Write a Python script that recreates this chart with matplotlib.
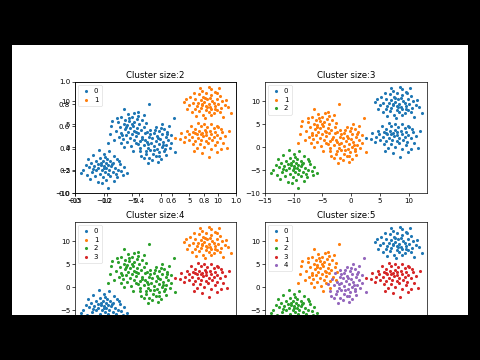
import matplotlib
matplotlib.use("Agg")
import matplotlib.pyplot as plt
from matplotlib.patches import Rectangle

# ---- data: five point groups (x, y) ----
group_a_x = [8.5,7.2,9.6,6.8,8.0,10.4,5.2,7.5,8.8,9.9,6.1,7.0,8.2,9.0,10.8,4.1,5.6,6.6,7.6,8.4,
             9.3,10.1,11.2,5.0,6.3,7.2,8.0,8.7,9.6,10.6,4.7,6.0,7.0,7.9,8.9,9.9,11.8,5.5,6.8,8.4,
             9.3,10.4,7.4,8.9,6.2,10.9,7.8,9.8,6.9,8.9,7.7,8.6,5.9,11.5,9.5,7.3,8.1,12.3,4.5,10.2]
group_a_y = [13.1,12.3,12.0,11.6,11.8,11.2,11.0,11.0,11.3,10.6,10.5,10.2,10.4,10.1,10.0,9.9,9.7,9.6,9.8,9.5,
             9.7,9.4,9.1,9.2,9.0,9.2,9.0,8.8,9.0,8.6,8.4,8.3,8.6,8.2,8.4,8.0,8.7,7.6,7.8,7.6,
             7.4,7.7,7.1,6.9,6.8,6.6,6.4,11.8,12.9,12.6,10.7,10.8,11.9,10.3,8.4,9.5,8.7,7.5,10.6,12.8]

group_b_x = [6.5,7.6,8.8,5.3,9.9,7.0,8.2,6.1,9.3,10.6,4.6,5.7,6.8,7.7,8.6,9.6,10.8,3.6,4.9,6.3,
             7.2,8.0,8.9,9.9,11.2,4.3,5.5,6.6,7.5,8.4,9.3,10.4,3.4,5.0,6.1,7.1,8.0,9.0,9.8,11.0,
             5.7,6.9,8.3,9.5,7.6,6.4,8.8,10.5,7.3,8.5,5.9,9.9,7.9,6.0,10.1,4.1,11.6,12.0,2.6,7.0]
group_b_y = [5.3,5.1,5.0,4.6,4.7,4.5,4.3,4.0,4.1,3.9,3.6,3.4,3.6,3.8,3.5,3.3,3.2,3.0,2.9,2.8,
             3.0,2.7,2.9,2.6,2.5,2.2,2.3,2.1,2.4,2.0,2.2,1.9,1.7,1.5,1.4,1.6,1.3,1.5,1.2,1.0,
             0.7,0.6,0.8,0.4,0.1,-0.2,-0.3,-0.3,-1.2,-2.2,-0.9,-1.1,3.3,3.1,4.4,1.1,-0.1,3.6,2.0,2.9]

group_c_x = [-6.5,-4.6,-5.8,-3.9,-6.9,-5.1,-4.2,-6.2,-3.3,-5.5,-7.5,-4.7,-2.6,-6.5,-3.8,-5.9,-4.9,-8.7,-7.1,-2.9,
             -4.1,-5.4,-6.3,-3.5,-7.8,-4.6,-5.7,-2.4,-6.9,-3.9,-5.0,-8.9,-6.1,-4.3,-7.3,-3.2,-5.4,-6.6,-4.7,-8.1,
             -3.7,-5.9,-7.0,-4.4,-5.2,-6.4,-3.6,-4.9,-2.1,-9.2,-5.6,-4.4,-6.0,-3.0,-7.6,-5.1,-4.0,-6.8,-2.7,-8.5]
group_c_y = [8.4,7.5,7.2,6.8,6.6,6.6,6.2,6.0,5.9,5.7,5.5,5.4,5.3,5.1,5.0,4.8,4.6,4.6,4.4,4.4,
             4.2,4.1,3.9,3.8,3.6,3.5,3.3,3.2,3.1,3.0,2.8,2.8,2.6,2.4,2.2,2.2,2.0,1.8,1.6,1.5,
             1.4,1.2,0.9,0.8,0.2,0.0,-0.1,-0.9,9.3,1.0,6.3,3.3,4.4,6.9,6.4,5.1,7.6,2.6,1.6,5.8]

group_d_x = [0.3,1.4,-0.8,0.6,-1.9,-0.2,1.2,-1.2,-2.8,0.2,1.8,-0.7,-2.0,0.9,-1.5,-0.1,-3.3,1.3,-0.9,-2.4,
             0.4,-1.7,-0.3,1.0,-3.0,-1.2,0.2,-2.2,1.6,-0.6,-1.8,0.6,-3.6,-0.2,-1.3,-2.6,0.9,-0.8,-2.0,0.1,
             -1.5,-3.0,-0.4,-2.3,2.3,1.9,-4.0,-0.5,0.7,-1.0,-2.5,-1.1,2.6,-3.5,0.0,-1.8,1.1,-0.3,-2.2,0.5]
group_d_y = [5.0,4.6,4.4,3.9,3.7,3.5,3.3,3.1,3.0,2.8,2.6,2.5,2.3,2.2,1.9,1.8,1.7,1.5,1.3,1.2,
             1.1,0.8,0.6,0.5,0.4,0.2,0.0,-0.1,-0.2,-0.4,-0.7,-0.8,-0.9,-1.1,-1.4,-1.6,-1.7,-2.0,-2.3,-2.5,
             -2.9,-2.4,-3.3,-3.4,6.4,1.0,0.7,1.9,-0.3,3.8,-0.9,-0.6,-1.0,-2.0,4.2,2.9,2.9,-1.9,0.6,0.4]

group_e_x = [-10.8,-9.0,-11.9,-9.9,-8.2,-10.6,-12.8,-9.4,-7.6,-11.3,-10.1,-8.8,-12.2,-9.6,-11.0,-8.3,-13.1,-10.5,-9.2,-7.2,
             -11.7,-10.0,-8.7,-12.5,-9.5,-10.9,-8.0,-6.4,-11.4,-10.2,-9.0,-7.5,-13.9,-12.0,-9.8,-8.4,-6.9,-10.7,-9.3,-5.9,
             -11.5,-8.8,-10.1,-7.7,-12.4,-9.6,-8.2,-11.0,-9.2,-6.6,-10.4,-9.8,-8.5,-11.8,-7.9,-13.6,-10.3,-12.9,-7.3,-9.9]
group_e_y = [-0.6,-0.9,-1.8,-1.6,-1.9,-2.4,-2.6,-2.5,-2.6,-3.0,-3.1,-3.0,-3.4,-3.5,-3.6,-3.4,-3.8,-3.9,-3.8,-3.7,
             -4.1,-4.2,-4.1,-4.4,-4.5,-4.6,-4.5,-4.4,-5.0,-5.0,-5.0,-4.9,-5.6,-5.5,-5.4,-5.5,-5.2,-5.8,-5.9,-5.6,
             -6.3,-6.3,-6.6,-6.5,-7.0,-7.2,-7.4,-7.6,-8.9,-6.0,-3.4,-2.1,-3.7,-4.8,-5.9,-4.9,-7.9,-6.1,-3.1,-4.6]

groups = {
    "a": (group_a_x, group_a_y),
    "b": (group_b_x, group_b_y),
    "c": (group_c_x, group_c_y),
    "d": (group_d_x, group_d_y),
    "e": (group_e_x, group_e_y),
}

# which groups make up each cluster label, per cluster size
cluster_sizes = [2, 3, 4, 5]
cluster_members = {
    2: [["c", "d", "e"], ["a", "b"]],
    3: [["a", "b"], ["c", "d"], ["e"]],
    4: [["e"], ["a"], ["c", "d"], ["b"]],
    5: [["a"], ["c"], ["e"], ["b"], ["d"]],
}
colors = ["#1f77b4", "#ff7f0e", "#2ca02c", "#d62728", "#9467bd"]

# ---- figure ----
W, H = 480, 360
fig = plt.figure(figsize=(W / 100, H / 100), dpi=100, facecolor="black")
fig.add_artist(Rectangle((12 / W, 1 - 315 / H), 456 / W, 270 / H,
                         transform=fig.transFigure, facecolor="white",
                         edgecolor="none", zorder=-5))

def rect(left, top, w, h):
    return [left / W, 1 - (top + h) / H, w / W, h / H]

rects = [rect(75, 82, 161, 111), rect(265, 82, 162, 111),
         rect(75, 222, 161, 111), rect(265, 222, 162, 111)]

tick_fs = 5
for k, r in zip(cluster_sizes, rects):
    ax = fig.add_axes(r)
    ax.set_facecolor("white")
    for lab, members in enumerate(cluster_members[k]):
        xs, ys = [], []
        for m in members:
            xs += groups[m][0]
            ys += groups[m][1]
        ax.scatter(xs, ys, s=5, color=colors[lab], label=str(lab), linewidths=0)
    ax.set_xlim(-15, 13.2)
    ax.set_ylim(-10, 14.2)
    ax.set_xticks([-15, -10, -5, 0, 5, 10])
    ax.set_yticks([-10, -5, 0, 5, 10])
    ax.tick_params(labelsize=tick_fs, length=2, width=0.5, pad=1.5)
    for s in ax.spines.values():
        s.set_linewidth(0.5)
    ax.set_title(f"Cluster size:{k}", fontsize=6.2, pad=3)
    leg = ax.legend(loc="upper left", fontsize=5, markerscale=1.0,
                    handletextpad=0.4, borderpad=0.5, labelspacing=0.35,
                    handlelength=1.4, borderaxespad=0.4, framealpha=0.8)
    leg.get_frame().set_linewidth(0.4)
    if k == 2:
        ov = fig.add_axes(r)
        ov.patch.set_alpha(0)
        ov.set_xlim(0, 1)
        ov.set_ylim(0, 1)
        ov.tick_params(labelsize=tick_fs, length=2, width=0.5, pad=1.5)
        for s in ov.spines.values():
            s.set_linewidth(0.5)

# black band covering the cropped bottom of the screenshot
fig.add_artist(Rectangle((0, 0), 1, 1 - 315 / H, transform=fig.transFigure,
                         facecolor="black", edgecolor="none", zorder=50))

fig.savefig("out.png", dpi=100, facecolor=fig.get_facecolor())
